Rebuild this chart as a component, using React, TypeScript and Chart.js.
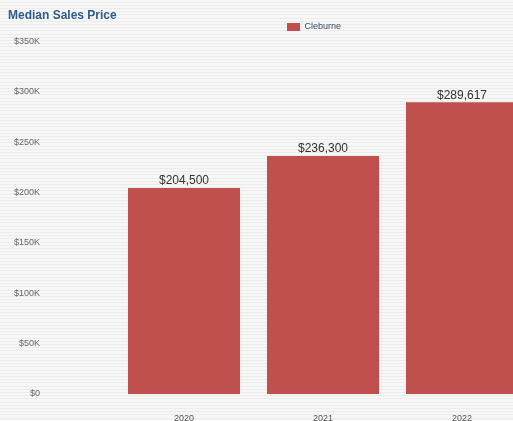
import { useEffect, useRef } from "react";
import { Chart, registerables } from "chart.js";

Chart.register(...registerables);

const categories = ["2020", "2021", "2022"];
const medianPrices = [204500, 236300, 289617];
const seriesName = "Cleburne";
const yMin = 0;
const yMax = 350000;
const yStep = 50000;
const titleText = "Median Sales Price";

const FONT = "'Liberation Sans', Arial, sans-serif";
const BAR_COLOR = "#c0504d";
const PAGE_BG =
  "repeating-linear-gradient(180deg, rgba(0,0,0,0) 0px, rgba(0,0,0,0) 2px, rgba(0,0,0,0.045) 2px, rgba(0,0,0,0.045) 3px), #f7f7f7";

function formatTick(v: number): string {
  return v === 0 ? "$0" : "$" + v / 1000 + "K";
}

function formatValue(v: number): string {
  return "$" + v.toLocaleString("en-US");
}

export default function App() {
  const ref = useRef<HTMLCanvasElement | null>(null);

  useEffect(() => {
    document.documentElement.style.overflow = "hidden";
    document.documentElement.style.background = PAGE_BG;
    const canvas = ref.current;
    if (!canvas) return;

    const barLabels = {
      id: "barLabels",
      afterDatasetsDraw(chart: any) {
        const ctx = chart.ctx;
        const meta = chart.getDatasetMeta(0);
        ctx.save();
        ctx.font = "12px " + FONT;
        ctx.fillStyle = "#333333";
        ctx.textAlign = "center";
        ctx.textBaseline = "bottom";
        meta.data.forEach((el: any, i: number) => {
          ctx.fillText(formatValue(medianPrices[i]), el.x, el.y - 1);
        });
        ctx.restore();
      },
    };

    const chart = new Chart(canvas, {
      type: "bar",
      data: {
        labels: categories,
        datasets: [
          {
            label: seriesName,
            data: medianPrices,
            backgroundColor: BAR_COLOR,
            borderWidth: 0,
            barPercentage: 0.806,
            categoryPercentage: 1,
          },
        ],
      },
      options: {
        responsive: false,
        animation: false,
        layout: { padding: 0 },
        plugins: {
          title: {
            display: true,
            text: titleText,
            align: "start",
            color: "#2f5b8a",
            font: { family: FONT, size: 12, weight: "bold" },
            padding: { top: 0, bottom: 0 },
          },
          legend: {
            display: true,
            position: "top",
            labels: {
              boxWidth: 13,
              boxHeight: 8,
              padding: 0,
              color: "#3b4a66",
              font: { family: FONT, size: 9 },
            },
          },
          tooltip: { enabled: false },
        },
        scales: {
          x: {
            grid: { display: false, drawTicks: false },
            border: { display: false },
            ticks: {
              color: "#555555",
              font: { family: FONT, size: 9 },
              padding: 19,
              maxRotation: 0,
            },
            afterFit(s: any) {
              s.height = 35;
              s.paddingLeft = 0;
              s.paddingRight = 0;
            },
          },
          y: {
            min: yMin,
            max: yMax,
            grid: { display: false, drawTicks: false },
            border: { display: false },
            ticks: {
              stepSize: yStep,
              color: "#666666",
              font: { family: FONT, size: 9 },
              padding: 74.5,
              callback: (v: any) => formatTick(Number(v)),
            },
            afterFit(s: any) {
              s.width = 106.5;
              s.paddingTop = 0;
              s.paddingBottom = 0;
            },
          },
          spacer: {
            type: "linear",
            position: "right",
            display: true,
            grid: { display: false, drawTicks: false },
            border: { display: false },
            ticks: { display: false },
            afterFit(s: any) {
              s.width = 88.5;
              s.paddingTop = 0;
              s.paddingBottom = 0;
            },
          },
        },
      } as any,
      plugins: [barLabels],
    });

    return () => chart.destroy();
  }, []);

  return (
    <div style={{ position: "fixed", left: 8, top: 8, width: 612, height: 421 }}>
      <canvas ref={ref} width={612} height={421} style={{ display: "block" }} />
    </div>
  );
}
